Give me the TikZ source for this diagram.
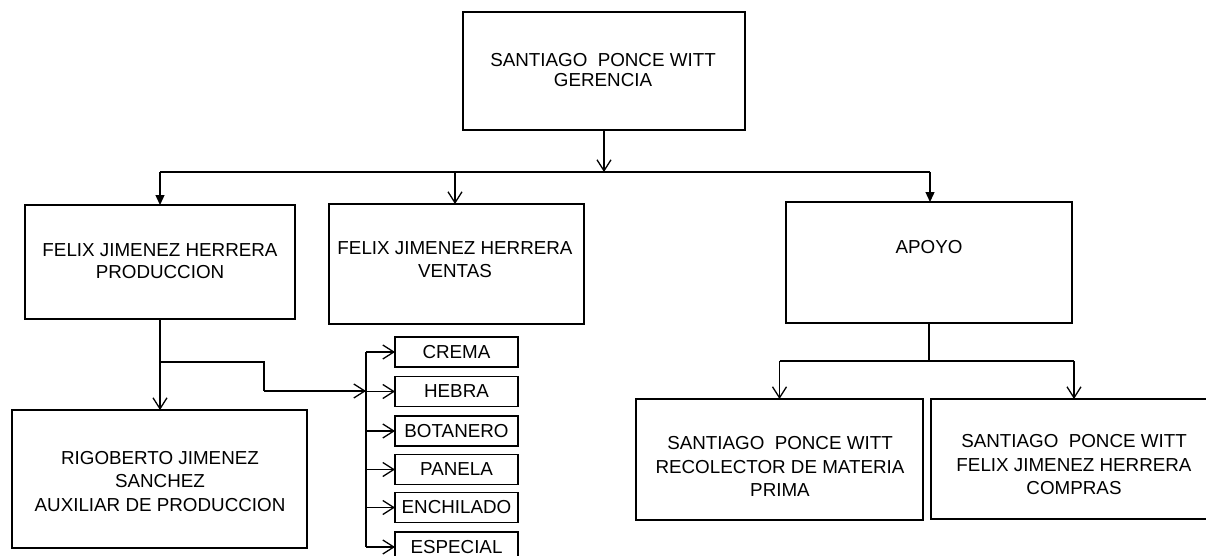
\documentclass[tikz,border=0pt]{standalone}
\usepackage{fontspec}
\setmainfont{Liberation Sans}
\usetikzlibrary{arrows.meta}
\begin{document}
\begin{tikzpicture}[x=1pt,y=-1pt,
  box/.style={draw, line width=1.3pt, inner sep=0pt, outer sep=0pt, rectangle},
  lbl/.style={font=\fontsize{18.8}{22.5}\selectfont, align=center, inner sep=0pt},
  sml/.style={draw, line width=1.3pt, inner sep=0pt, outer sep=0pt, minimum width=123pt, minimum height=30pt, font=\fontsize{18.8}{22}\selectfont},
  con/.style={line width=1.3pt},
  openarr/.style={con, -{Straight Barb[length=11pt,width=14pt,line width=1.3pt]}},
  solidarr/.style={con, -{Triangle[length=10pt,width=9pt]}}
]
\useasboundingbox (0,0) rectangle (1206,556);
\fill[white] (0,0) rectangle (1206,556);

% boxes
\node[box, minimum width=282pt, minimum height=118pt] (ger) at (604,71) {};
\node[box, minimum width=270pt, minimum height=114pt] (prod) at (160,262) {};
\node[box, minimum width=255pt, minimum height=120pt] (ven) at (456.5,264) {};
\node[box, minimum width=286pt, minimum height=121pt] (apo) at (929,262.5) {};
\node[box, minimum width=295pt, minimum height=138pt] (rig) at (159.5,479) {};
\node[box, minimum width=287pt, minimum height=121pt] (rec) at (779.5,459.5) {};
\node[box, minimum width=286pt, minimum height=120pt] (com) at (1074,459) {};

% texts
\node[lbl, font=\fontsize{18.8}{20.5}\selectfont] (tger) at (603,70) {SANTIAGO\hspace{0.55em}PONCE WITT\\GERENCIA};
\node[lbl] (tprod) at (160,261) {FELIX JIMENEZ HERRERA\\PRODUCCION};
\node[lbl] (tven) at (455,259.5) {FELIX JIMENEZ HERRERA\\VENTAS};
\node[lbl] (tapo) at (929,247) {APOYO};
\node[lbl, font=\fontsize{18.8}{23.5}\selectfont] (trig) at (160,481.5) {RIGOBERTO JIMENEZ\\SANCHEZ\\AUXILIAR DE PRODUCCION};
\node[lbl, font=\fontsize{18.8}{23.5}\selectfont] (trec) at (780,466.5) {SANTIAGO\hspace{0.55em}PONCE WITT\\RECOLECTOR DE MATERIA\\PRIMA};
\node[lbl, font=\fontsize{18.8}{23.5}\selectfont] (tcom) at (1074,465) {SANTIAGO\hspace{0.55em}PONCE WITT\\FELIX JIMENEZ HERRERA\\COMPRAS};

% small boxes
\node[sml] (crema) at (456.5,352) {CREMA};
\node[sml] (hebra) at (456.5,391.5) {HEBRA};
\node[sml] (bota) at (456.5,431) {BOTANERO};
\node[sml] (pane) at (456.5,469.5) {PANELA};
\node[sml] (ench) at (456.5,507.5) {ENCHILADO};
\node[sml] (espe) at (456.5,547) {ESPECIAL};

% junction coordinates
\coordinate (jtop) at (604,172);
\coordinate (jl) at (160,172);
\coordinate (jv) at (455,172);
\coordinate (jr) at (930,172);
\coordinate (b1) at (160,362);
\coordinate (b2) at (264,391);
\coordinate (sp) at (366,391);
\coordinate (ja) at (929,361);
\coordinate (jal) at (779.5,361);
\coordinate (jar) at (1074,361);

% top level
\draw[openarr] (ger.south) -- (jtop);
\draw[con] (jl) -- (jr);
\draw[solidarr] (jl) -- (jl |- prod.north);
\draw[openarr] (jv) -- (jv |- ven.north);
\draw[solidarr] (jr) -- (jr |- apo.north);

% produccion
\draw[openarr] (prod.south) -- (prod.south |- rig.north);
\draw[con] (b1) -| (b2);
\draw[openarr] (b2) -- (sp);
\draw[con] (sp |- crema.west) -- (sp |- espe.west);
\foreach \n in {crema,hebra,bota,pane,ench,espe}
  \draw[openarr] (sp |- \n.west) -- (\n.west);

% apoyo
\draw[con] (apo.south) -- (ja);
\draw[con] (jal) -- (jar);
\draw[openarr] (jal) -- (jal |- rec.north);
\draw[openarr] (jar) -- (jar |- com.north);
\end{tikzpicture}
\end{document}
